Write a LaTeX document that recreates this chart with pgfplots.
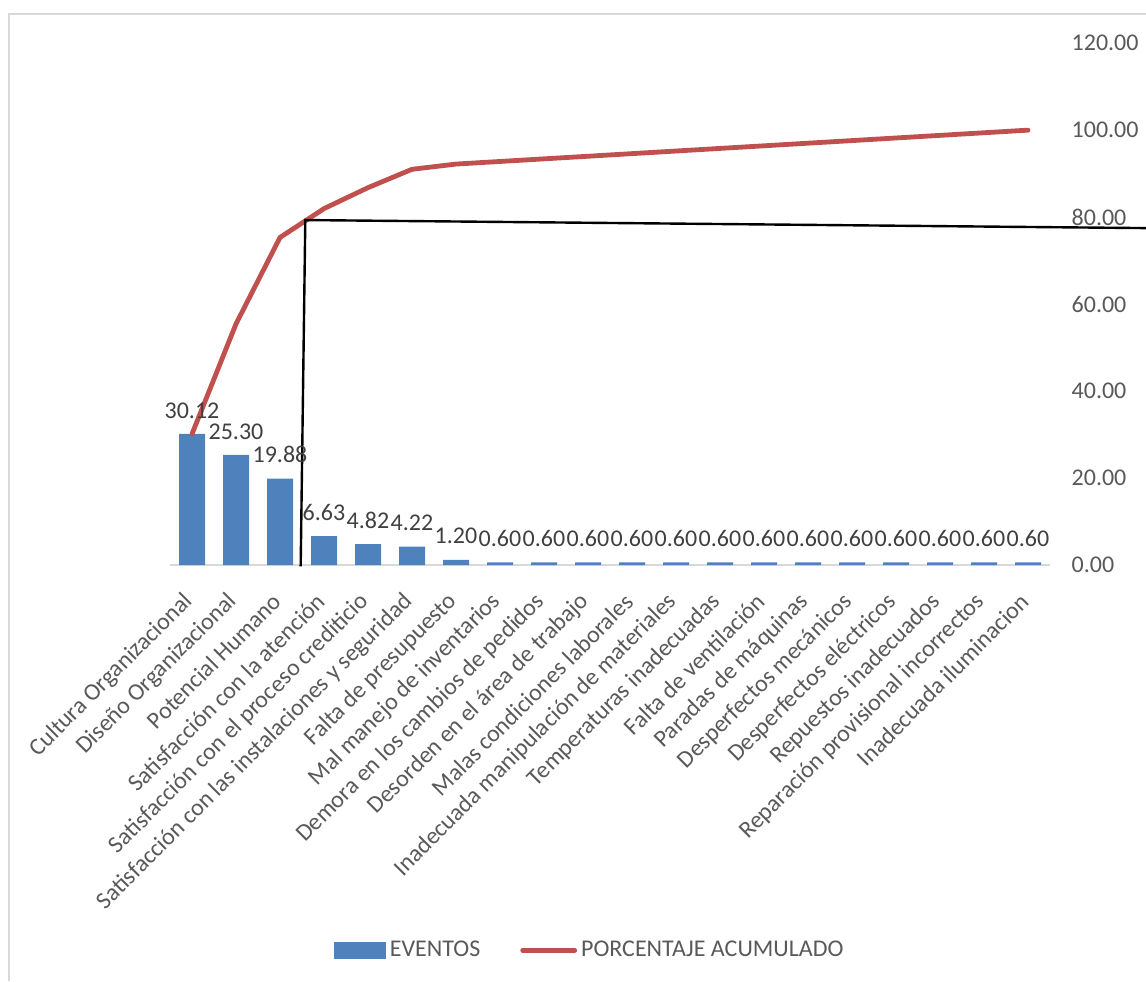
\documentclass[border=0pt]{standalone}
\usepackage{fontspec}
\setmainfont{Carlito}
\usepackage{pgfplots}
\pgfplotsset{compat=1.18}
\definecolor{barblue}{HTML}{4F81BD}
\definecolor{linered}{HTML}{C0504D}
\definecolor{txtgray}{HTML}{595959}
\definecolor{lblgray}{HTML}{404040}
\definecolor{framegray}{HTML}{D9D9D9}
\newcommand{\lbl}{\fontsize{12}{14.4}\selectfont}
\begin{document}
\begin{tikzpicture}
\useasboundingbox (0,0) rectangle (573pt,-490.5pt);
\draw[framegray, line width=1pt] (4.5pt,-490.5pt) -- (4.5pt,-7pt) -- (573pt,-7pt);
\begin{axis}[
  at={(85pt,-282.5pt)}, anchor=south west,
  scale only axis, width=440pt, height=261pt,
  xmin=-0.5, xmax=19.5, ymin=0, ymax=120,
  axis y line*=right, axis x line*=bottom,
  y axis line style={draw=none},
  x axis line style={draw=framegray, line width=0.8pt},
  xtick={0,...,19},
  xticklabels={Cultura Organizacional,Diseño Organizacional,Potencial Humano,Satisfacción con la atención,Satisfacción con el proceso crediticio,Satisfacción con las instalaciones y seguridad,Falta de presupuesto,Mal manejo de inventarios,Demora en los cambios de pedidos,Desorden en el área de trabajo,Malas condiciones laborales,Inadecuada manipulación de materiales,Temperaturas inadecuadas,Falta de ventilación,Paradas de máquinas,Desperfectos mecánicos,Desperfectos eléctricos,Repuestos inadecuados,Reparación provisional incorrectos,Inadecuada iluminacion},
  ytick={0,20,...,120},
  major tick length=0pt,
  /pgf/number format/assume math mode=true,
  yticklabel style={/pgf/number format/.cd, fixed, fixed zerofill, precision=2, /tikz/.cd, font=\lbl, text=txtgray, anchor=west, xshift=7.3pt},
  xticklabel style={xshift=1pt, yshift=-14pt, rotate=45, anchor=east, font=\lbl, text=txtgray},
  clip=false,
  legend style={at={(axis description cs:0.478,-0.738)}, anchor=center, draw=none, fill=none, font=\lbl, text=txtgray,
    /tikz/every even column/.append style={column sep=18pt}},
  legend columns=2,
]
\addplot[ybar, bar width=13pt, fill=barblue, draw=none,
  nodes near coords={\pgfmathprintnumber[fixed,fixed zerofill,precision=2]{\pgfplotspointmeta}},
  nodes near coords style={font=\lbl, text=lblgray, yshift=4.3pt},
  legend image code/.code={\fill[barblue] (0pt,-4.25pt) rectangle (26pt,4.25pt);}]
coordinates {(0,30.12) (1,25.30) (2,19.88) (3,6.63) (4,4.82) (5,4.22) (6,1.20) (7,0.60) (8,0.60) (9,0.60) (10,0.60) (11,0.60) (12,0.60) (13,0.60) (14,0.60) (15,0.60) (16,0.60) (17,0.60) (18,0.60) (19,0.60)};
\addlegendentry{EVENTOS}
\addplot[linered, line width=2.4pt, line cap=round, line join=round, mark=none,
  legend image code/.code={\draw[linered, line width=2.4pt, line cap=round] (0pt,0pt) -- (26pt,0pt);}]
coordinates {(0,30.12) (1,55.42) (2,75.30) (3,81.93) (4,86.75) (5,90.97) (6,92.17) (7,92.77) (8,93.37) (9,93.97) (10,94.57) (11,95.17) (12,95.77) (13,96.37) (14,96.97) (15,97.57) (16,98.17) (17,98.77) (18,99.37) (19,99.97)};
\addlegendentry{PORCENTAJE ACUMULADO}
\addplot[black, line width=1.2pt, mark=none, forget plot]
coordinates {(2.47,-0.3) (2.575,79.3) (21.7,77.45)};
\end{axis}
\end{tikzpicture}
\end{document}
